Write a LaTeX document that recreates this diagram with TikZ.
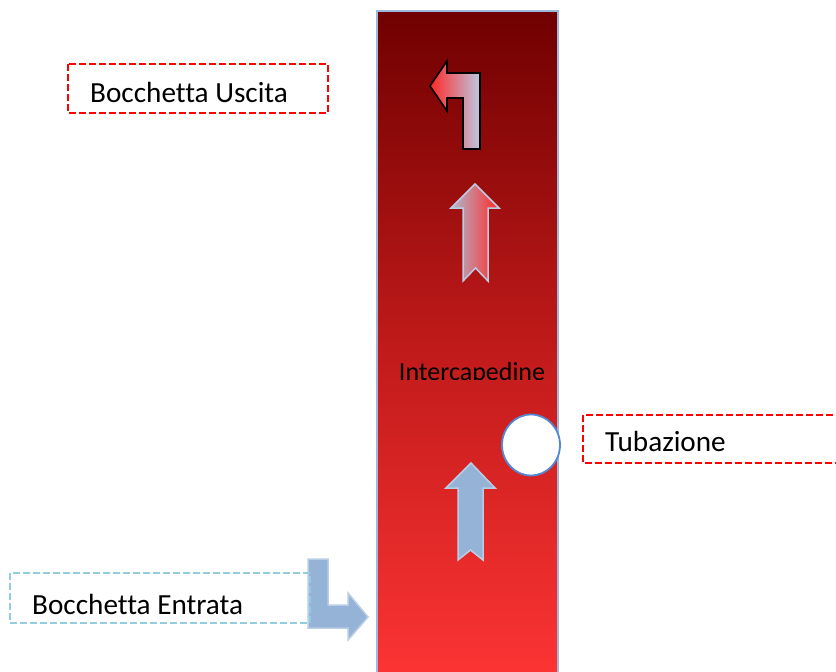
\documentclass[tikz,border=0pt]{standalone}
\usepackage{fontspec}
\usetikzlibrary{shapes.geometric}
\setmainfont[Ligatures=NoCommon]{Carlito}
\definecolor{wallTop}{RGB}{112,0,0}
\definecolor{wallMid}{RGB}{192,26,26}
\definecolor{wallBot}{RGB}{253,52,52}
\definecolor{wallEdge}{RGB}{157,185,220}
\definecolor{arrFill}{RGB}{149,179,215}
\definecolor{arrEdge}{RGB}{185,205,229}
\definecolor{arrPale}{RGB}{188,200,226}
\definecolor{arrRed}{RGB}{255,40,40}
\definecolor{pipeEdge}{RGB}{84,136,210}
\definecolor{boxRed}{RGB}{255,0,0}
\definecolor{boxBlue}{RGB}{146,205,221}
\tikzset{
  lbl/.style={font=\fontsize{29.2}{34}\selectfont, align=left, inner sep=0pt, anchor=west},
  redbox/.style={draw=boxRed, line width=1.4pt, dash pattern=on 7pt off 3pt},
  bluebox/.style={draw=boxBlue, line width=1.4pt, dash pattern=on 7pt off 3pt},
}
\begin{document}
\begin{tikzpicture}[x=1pt,y=-1pt]
\clip (0,0) rectangle (836,672);
% wall
\shade[top color=wallTop, bottom color=wallBot, middle color=wallMid] (377,11) rectangle (558,680);
\draw[wallEdge, line width=1.5pt] (377,680) -- (377,11) -- (558,11) -- (558,680);
% Intercapedine (clipped)
\begin{scope}
\clip (380,300) rectangle (556,379);
\node[font=\fontsize{26}{30}\selectfont, anchor=base, inner sep=0pt] (inter) at (472,380) {Intercapedine};
\end{scope}
% top bent arrow (outlet)
\shade[left color=arrRed, right color=arrPale]
  (480,149) -- (480,73) -- (447,73) -- (447,61) -- (430,86) -- (447,111) -- (447,98) -- (463,98) -- (463,149) -- cycle;
\draw[black, line width=1.6pt, line join=miter]
  (480,149) -- (480,73) -- (447,73) -- (447,61) -- (430,86) -- (447,111) -- (447,98) -- (463,98) -- (463,149) -- cycle;
% middle up arrow
\shade[left color=arrPale!80!gray, right color=arrRed]
  (475,184) -- (499,208) -- (488,208) -- (488,281) -- (475.5,268) -- (463,281) -- (463,208) -- (451,208) -- cycle;
\draw[arrEdge, line width=1.5pt]
  (475,184) -- (499,208) -- (488,208) -- (488,281) -- (475.5,268) -- (463,281) -- (463,208) -- (451,208) -- cycle;
% lower up arrow
\filldraw[fill=arrFill, draw=arrEdge, line width=1.5pt]
  (471,463) -- (495,488) -- (483,488) -- (483,560) -- (470.5,550) -- (458,560) -- (458,488) -- (446,488) -- cycle;
% pipe
\node[ellipse, draw=pipeEdge, fill=white, line width=1.8pt, minimum width=58pt, minimum height=61pt, inner sep=0pt] (tub) at (531,445) {};
% inlet bent arrow
\filldraw[fill=arrFill, draw=arrEdge, line width=1.5pt]
  (308,559) -- (328,559) -- (328,605) -- (348,605) -- (348,593) -- (368,617) -- (348,640) -- (348,628) -- (308,628) -- cycle;
% label boxes
\draw[redbox] (68,64) rectangle (328,113);
\node[lbl] (uscita) at (90,92) {Bocchetta Uscita};
\draw[bluebox] (10,573) rectangle (310,623);
\node[lbl] (entrata) at (32,604) {Bocchetta Entrata};
\draw[redbox] (583,415) rectangle (860,463);
\node[lbl] (tubaz) at (605,441) {Tubazione};
\end{tikzpicture}
\end{document}
